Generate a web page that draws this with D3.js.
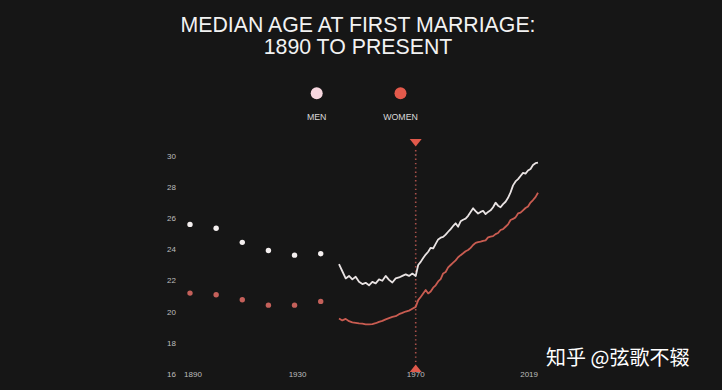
<!DOCTYPE html>
<html>
<head>
<meta charset="utf-8">
<script src="https://cdn.jsdelivr.net/npm/d3@7"></script>
<style>
  html, body { margin: 0; padding: 0; background: #161616; }
  svg { display: block; font-family: "Liberation Sans", Arial, sans-serif; }
</style>
</head>
<body>
<svg id="chart"></svg>
<script>
// decennial census points (dots)
const dotYears = [1890, 1900, 1910, 1920, 1930, 1940];
const menDots = [25.6, 25.35, 24.45, 23.93, 23.63, 23.72];
const womenDots = [21.2, 21.09, 20.77, 20.43, 20.43, 20.67];

// annual series (lines), 1947-2019
const lineYears = d3.range(1947, 2020);
const menLine = [
  23.05, 22.6, 22.14, 22.3, 22.08, 22.25, 21.92, 21.78, 21.86, 21.7,
  21.92, 21.82, 22.08, 21.99, 22.3, 22.05, 21.88, 22.14, 22.2, 22.3,
  22.4, 22.3, 22.45, 22.3, 23.0, 23.2, 23.45, 23.67, 23.85, 24.1,
  24.06, 24.35, 24.64, 24.75, 24.8, 24.95, 25.13, 25.3, 25.5, 25.67,
  25.45, 25.8, 25.9, 25.97, 26.15, 26.4, 26.63, 26.45, 26.3, 26.4,
  26.47, 26.26, 26.4, 26.5, 26.7, 26.99, 26.8, 26.7, 26.9, 27.05,
  27.3, 27.65, 28.1, 28.35, 28.5, 28.7, 28.9, 28.85, 29.05, 29.15,
  29.4, 29.52, 29.55
];
const womenLine = [
  19.58, 19.45, 19.55, 19.4, 19.32, 19.3, 19.26, 19.24, 19.2, 19.2,
  19.22, 19.27, 19.36, 19.42, 19.52, 19.6, 19.68, 19.72, 19.85, 19.93,
  20.02, 20.08, 20.2, 20.32, 20.75, 20.95, 21.18, 21.4, 21.18, 21.3,
  21.55, 21.7, 21.95, 22.1, 22.46, 22.55, 22.85, 23.0, 23.15, 23.3,
  23.5, 23.63, 23.75, 23.88, 23.96, 24.1, 24.28, 24.42, 24.47, 24.5,
  24.55, 24.58, 24.77, 24.82, 24.85, 24.98, 25.05, 25.24, 25.3, 25.45,
  25.6, 25.88, 25.95, 26.05, 26.3, 26.35, 26.5, 26.65, 26.75, 27.0,
  27.16, 27.35, 27.63
];

const yTicks = [16, 18, 20, 22, 24, 26, 28, 30];
const xLabels = [1890, 1930, 1970, 2019];
const markYear = 1970;
const titleLines = ["MEDIAN AGE AT FIRST MARRIAGE:", "1890 TO PRESENT"];
const legendNames = ["MEN", "WOMEN"];
const watermark = "知乎 @弦歌不辍";

const width = 722;
const height = 390;

const svg = d3.select("#chart").attr("width", width).attr("height", height);

svg.append("rect")
  .attr("width", width)
  .attr("height", height)
  .style("fill", "#161616");

// the dot section and the line section use different spacing
let x = d3.scaleLinear()
  .domain([1890, 1940, 1947, 1970, 2019])
  .range([190, 320.7, 339, 415.7, 538]);

let y = d3.scaleLinear().domain([16, 30]).range([374.3, 155.7]);

// title
svg.append("g")
  .selectAll("text")
  .data(titleLines)
  .join("text")
  .attr("x", 358)
  .attr("y", (d, i) => 31.5 + i * 22)
  .attr("text-anchor", "middle")
  .style("font-size", "21.3px")
  .style("fill", "#f2f2f2")
  .text((d) => d);

// legend
let legendColors = ["#f7d7df", "#e3594b"];
let legendX = [316.7, 400.5];
let legend = svg.append("g")
  .selectAll("g")
  .data(legendNames)
  .join("g")
  .attr("transform", (d, i) => `translate(${legendX[i]},0)`);

legend.append("circle")
  .attr("cy", 93.3)
  .attr("r", 6)
  .style("fill", (d, i) => legendColors[i]);

legend.append("text")
  .attr("y", 120)
  .attr("text-anchor", "middle")
  .style("font-size", "8.8px")
  .style("fill", "#d9d9d9")
  .text((d) => d);

// y labels
svg.append("g")
  .selectAll("text")
  .data(yTicks)
  .join("text")
  .attr("x", 167)
  .attr("y", (d) => y(d))
  .attr("dy", "0.35em")
  .style("font-size", "8px")
  .style("fill", "#bdbdbd")
  .text((d) => d);

// 1970 marker line
let mx = x(markYear);
svg.append("line")
  .attr("x1", mx)
  .attr("x2", mx)
  .attr("y1", 150)
  .attr("y2", 364)
  .style("stroke", "#a9504a")
  .style("stroke-width", 1.6)
  .style("stroke-dasharray", "1.4,2.9");

svg.append("path")
  .attr("d", `M${mx - 6},139 L${mx + 6},139 L${mx},146.5 Z`)
  .style("fill", "#e0594b");

svg.append("path")
  .attr("d", `M${mx - 6},372 L${mx + 6},372 L${mx},364.5 Z`)
  .style("fill", "#e0594b");

// x labels
svg.append("g")
  .selectAll("text")
  .data(xLabels)
  .join("text")
  .attr("x", (d) => (d === 2019 ? x(d) : d === 1970 ? x(d) : x(d) + 3))
  .attr("y", 377)
  .attr("text-anchor", (d) => (d === 2019 ? "end" : "middle"))
  .style("font-size", "8px")
  .style("fill", "#bdbdbd")
  .text((d) => d);

// lines
let line = d3.line()
  .x((d) => x(d[0]))
  .y((d) => y(d[1]));

let series = [
  { values: menLine, color: "#e9e3e3" },
  { values: womenLine, color: "#c95c51" },
];

svg.append("g")
  .selectAll("path")
  .data(series)
  .join("path")
  .attr("d", (s) => line(lineYears.map((yr, i) => [yr, s.values[i]])))
  .style("fill", "none")
  .style("stroke", (s) => s.color)
  .style("stroke-width", 1.8)
  .style("stroke-linejoin", "round");

// dots
svg.append("g")
  .selectAll("circle")
  .data(dotYears)
  .join("circle")
  .attr("cx", (d) => x(d))
  .attr("cy", (d, i) => y(menDots[i]))
  .attr("r", 2.7)
  .style("fill", "#f4efef");

svg.append("g")
  .selectAll("circle")
  .data(dotYears)
  .join("circle")
  .attr("cx", (d) => x(d))
  .attr("cy", (d, i) => y(womenDots[i]))
  .attr("r", 2.7)
  .style("fill", "#c4605a");

// watermark
svg.append("text")
  .attr("x", 546)
  .attr("y", 365)
  .style("font-family", "'Noto Sans CJK SC', sans-serif")
  .style("font-size", "20px")
  .style("fill", "#ffffff")
  .text(watermark);
</script>
</body>
</html>
